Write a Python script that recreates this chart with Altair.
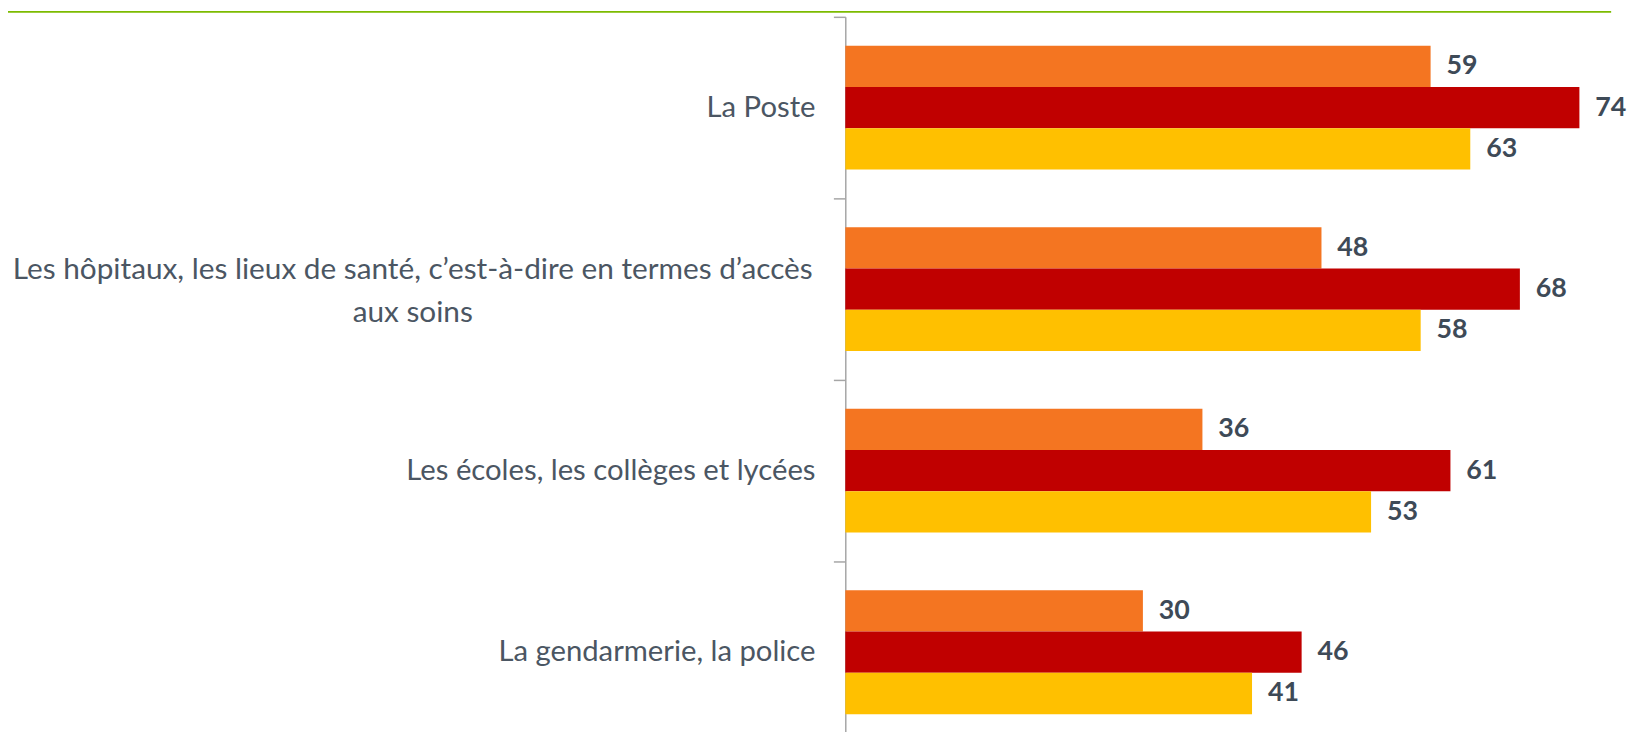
import altair as alt
import pandas as pd

categories = [
    "La Poste",
    "Les hôpitaux, les lieux de santé, c’est-à-dire en termes d’accès aux soins",
    "Les écoles, les collèges et lycées",
    "La gendarmerie, la police",
]
series = ["Série 1", "Série 2", "Série 3"]
serie1 = [59, 48, 36, 30]
serie2 = [74, 68, 61, 46]
serie3 = [63, 58, 53, 41]
colors = ["#F47521", "#C00000", "#FFC000"]

rows = []
for i, c in enumerate(categories):
    for s, vals in zip(series, [serie1, serie2, serie3]):
        rows.append({"cat": c, "serie": s, "val": vals[i]})
df = pd.DataFrame(rows)
cat_df = pd.DataFrame({"cat": categories})

FONT = "Lato"
LABEL_COLOR = "#4B5663"
VALUE_COLOR = "#3E4A57"

y_enc = alt.Y(
    "cat:N",
    sort=categories,
    scale=alt.Scale(range=[0, 732], paddingInner=0, paddingOuter=0),
    axis=alt.Axis(
        title=None,
        labels=False,
        domainColor="#A6A6A6",
        domainWidth=1.5,
        tickColor="#A6A6A6",
        tickWidth=1.5,
        tickSize=12,
        tickBand="extent",
    ),
)
yoff = alt.YOffset("serie:N", sort=series, scale=alt.Scale(paddingOuter=0.7, paddingInner=0))
x_enc = alt.X("val:Q", scale=alt.Scale(domain=[0, 79.1], nice=False), axis=None)

bars = alt.Chart(df).mark_bar().encode(
    y=y_enc,
    yOffset=yoff,
    x=x_enc,
    color=alt.Color("serie:N", sort=series, scale=alt.Scale(domain=series, range=colors), legend=None),
)

labels = alt.Chart(df).mark_text(
    align="left", baseline="middle", dx=16, font=FONT, fontSize=27, fontWeight="bold", color=VALUE_COLOR
).encode(
    y=alt.Y("cat:N", sort=categories),
    yOffset=yoff,
    x=x_enc,
    text=alt.Text("val:Q"),
)

cat_right = alt.Chart(cat_df).transform_filter(
    "indexof(datum.cat, ' aux soins') < 0"
).mark_text(
    align="right", baseline="middle", font=FONT, fontSize=29.5, color=LABEL_COLOR
).encode(
    y=alt.Y("cat:N", sort=categories),
    x=alt.value(-30),
    text="cat:N",
)

cat_center = alt.Chart(cat_df).transform_filter(
    "indexof(datum.cat, ' aux soins') >= 0"
).transform_calculate(
    lab="[replace(datum.cat, ' aux soins', ''), 'aux soins']"
).mark_text(
    align="center", baseline="middle", font=FONT, fontSize=30, lineHeight=43, dy=-19, color=LABEL_COLOR
).encode(
    y=alt.Y("cat:N", sort=categories),
    x=alt.value(-436),
    text="lab:N",
)

green = alt.Chart(cat_df).transform_aggregate(n="count()").mark_rule(color="#7CBB00", strokeWidth=2).encode(
    x=alt.value(-844), x2=alt.value(772), y=alt.value(-5)
)

chart = (
    alt.layer(bars, labels, cat_right, cat_center, green)
    .properties(
        width=791,
        height=718,
        padding={"left": 844, "top": 6, "right": 0, "bottom": 0},
        autosize=alt.AutoSizeParams(type="none"),
        background="white",
    )
    .configure_view(strokeWidth=0)
)

chart.save("out.html", embed_options={"renderer": "svg", "actions": False})
